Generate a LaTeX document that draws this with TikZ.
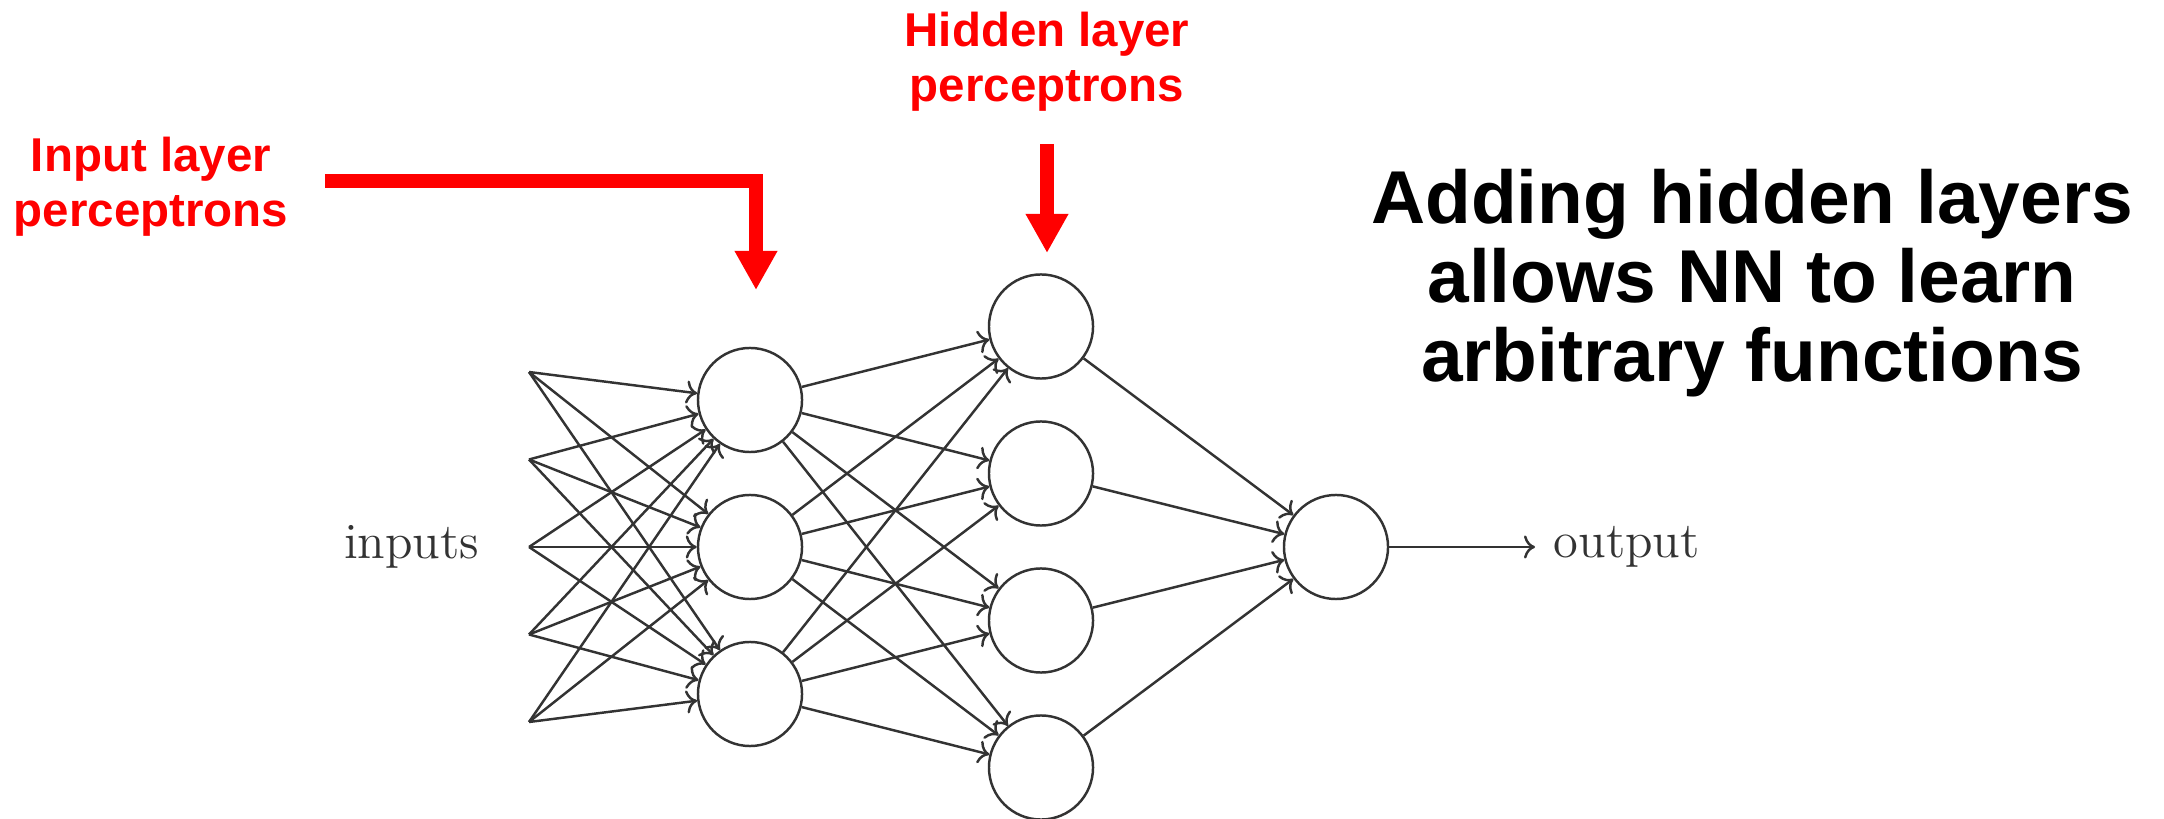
\documentclass[tikz,border=0pt]{standalone}
\usepackage{fontspec}
\newfontfamily\arialfont{Liberation Sans}
\usetikzlibrary{arrows.meta}
\definecolor{col_ff0000}{RGB}{255,0,0}
\definecolor{col_000000}{RGB}{0,0,0}
\definecolor{col_333333}{RGB}{51,51,51}
\newcommand{\tikzdrawneuron}[3]{%
\node[neuron] (#1) at (#2,#3) {};
}
\tikzset{
  neuron/.style={circle, draw=col_333333, line width=0.7pt, minimum size=1.04cm, inner sep=0pt},
  synapse/.style={->, col_333333, line width=0.7pt},
  lmlabel/.style={text=col_333333, font=\fontsize{14.4}{17}\selectfont},
  redlabel/.style={text=col_ff0000, align=center, inner sep=0pt, font=\arialfont\bfseries\fontsize{13.5}{15.9}\selectfont},
  redarrow/.style={col_ff0000, line width=0.14cm, -{Triangle[length=0.39cm,width=0.40cm]}},
  headline/.style={text=col_000000, align=center, inner sep=0pt, font=\arialfont\bfseries\fontsize{21.3}{22.6}\selectfont}
}

\begin{document}
\begin{tikzpicture}[x=0.01cm, y=-0.01cm]
\useasboundingbox (0,0) rectangle (2164,819);
%% inputs
\coordinate (in1) at (529,372.0);
\coordinate (in2) at (529,459.5);
\coordinate (in3) at (529,547.0);
\coordinate (in4) at (529,634.5);
\coordinate (in5) at (529,722.0);
\node[lmlabel, anchor=east, inner sep=0pt] (inputslabel) at (480,547) {inputs};
%% input layer
\tikzdrawneuron{a1}{750}{400}
\tikzdrawneuron{a2}{750}{547}
\tikzdrawneuron{a3}{750}{694}
%% hidden layer
\tikzdrawneuron{h1}{1041}{326.5}
\tikzdrawneuron{h2}{1041}{473.5}
\tikzdrawneuron{h3}{1041}{620.5}
\tikzdrawneuron{h4}{1041}{767.5}
%% output
\tikzdrawneuron{o}{1336}{547}
\node[lmlabel, anchor=west, inner xsep=0.18cm, inner ysep=0pt] (outputlabel) at (1535,547) {output};
\draw[synapse] (in1) -- (a1);
\draw[synapse] (in1) -- (a2);
\draw[synapse] (in1) -- (a3);
\draw[synapse] (in2) -- (a1);
\draw[synapse] (in2) -- (a2);
\draw[synapse] (in2) -- (a3);
\draw[synapse] (in3) -- (a1);
\draw[synapse] (in3) -- (a2);
\draw[synapse] (in3) -- (a3);
\draw[synapse] (in4) -- (a1);
\draw[synapse] (in4) -- (a2);
\draw[synapse] (in4) -- (a3);
\draw[synapse] (in5) -- (a1);
\draw[synapse] (in5) -- (a2);
\draw[synapse] (in5) -- (a3);
\draw[synapse] (a1) -- (h1);
\draw[synapse] (a1) -- (h2);
\draw[synapse] (a1) -- (h3);
\draw[synapse] (a1) -- (h4);
\draw[synapse] (a2) -- (h1);
\draw[synapse] (a2) -- (h2);
\draw[synapse] (a2) -- (h3);
\draw[synapse] (a2) -- (h4);
\draw[synapse] (a3) -- (h1);
\draw[synapse] (a3) -- (h2);
\draw[synapse] (a3) -- (h3);
\draw[synapse] (a3) -- (h4);
\draw[synapse] (h1) -- (o);
\draw[synapse] (h2) -- (o);
\draw[synapse] (h3) -- (o);
\draw[synapse] (h4) -- (o);
\draw[synapse] (o) -- (outputlabel.west);
%% red labels and pointers
\node[redlabel, anchor=base] (inputlayer) at (151,227) {Input layer\\perceptrons};
\node[redlabel, anchor=base] (hiddenlayer) at (1047,102) {Hidden layer\\perceptrons};
\coordinate (inbar) at (325,181);
\coordinate (intip) at (756,290);
\coordinate (hidbar) at (1047,144);
\coordinate (hidtip) at (1047,253);
\draw[redarrow] (inbar) -| (intip);
\draw[redarrow] (hidbar) -- (hidtip);
%% headline
\node[headline, anchor=base] (headline) at (1752,382) {Adding hidden layers\\allows NN to learn\\arbitrary functions};
\end{tikzpicture}
\end{document}
